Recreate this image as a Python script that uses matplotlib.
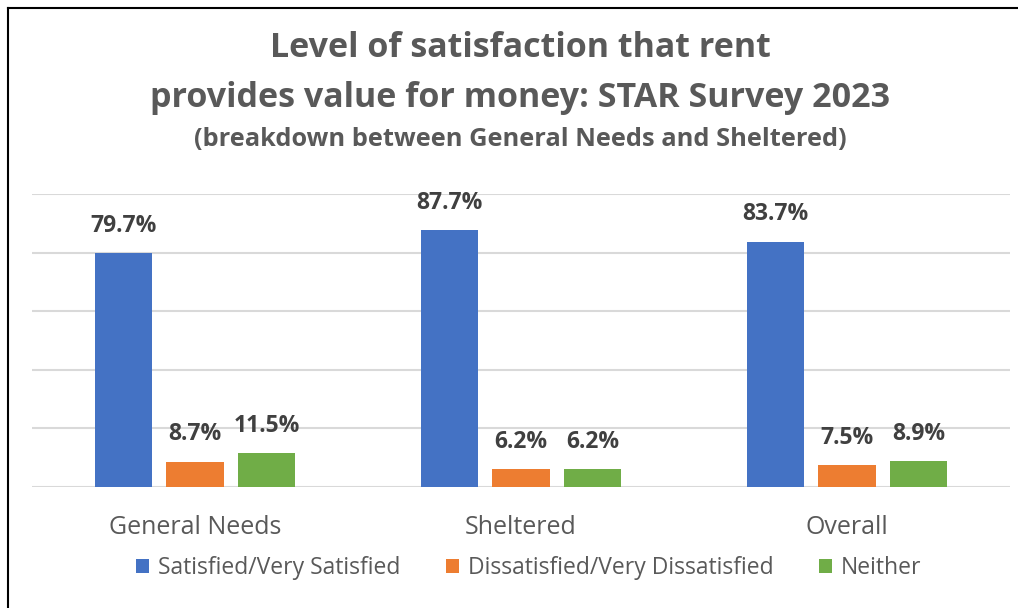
import numpy as np
import matplotlib.pyplot as plt
from matplotlib.lines import Line2D

categories = ["General Needs", "Sheltered", "Overall"]
series = ["Satisfied/Very Satisfied", "Dissatisfied/Very Dissatisfied", "Neither"]
satisfied = [79.7, 87.7, 83.7]
dissatisfied = [8.7, 6.2, 7.5]
neither = [11.5, 6.2, 8.9]
colors = ["#4472C4", "#ED7D31", "#70AD47"]

plt.rcParams['font.family'] = ['Open Sans', 'DejaVu Sans']

fig = plt.figure(figsize=(10.18, 6.08), dpi=100)
ax = fig.add_axes([32 / 1018, 121 / 608, 978 / 1018, 293 / 608])

x = np.arange(len(categories))
step = 0.2205
width = 0.175
for i, (vals, name) in enumerate(zip([satisfied, dissatisfied, neither], series)):
    pos = x + (i - 1) * step
    ax.bar(pos, vals, width, color=colors[i], label=name, zorder=3)
    for px, v in zip(pos, vals):
        ax.annotate(f"{v}%", (px, v), xytext=(0, 11), textcoords="offset points",
                    ha="center", va="bottom", fontsize=16.5, fontweight="bold", color="#404040")

ax.set_xlim(-0.5, 2.5)
ax.set_ylim(0, 100)
ax.set_yticks(np.arange(0, 101, 20))
ax.set_yticklabels([])
ax.tick_params(length=0)
ax.grid(axis="y", color="#D9D9D9", linewidth=1.5, zorder=0)
for s in ax.spines.values():
    s.set_visible(False)
ax.set_xticks(x)
ax.set_xticklabels(categories, fontsize=18, color="#595959")
ax.tick_params(axis="x", pad=20)

cx = 520 / 1018
fig.text(cx, 1 - 48 / 608, "Level of satisfaction that rent", ha="center", va="center",
         fontsize=24.5, fontweight="bold", color="#595959")
fig.text(cx, 1 - 98 / 608, "provides value for money: STAR Survey 2023", ha="center", va="center",
         fontsize=24.5, fontweight="bold", color="#595959")
fig.text(cx, 1 - 140 / 608, "(breakdown between General Needs and Sheltered)", ha="center", va="center",
         fontsize=18.3, fontweight="bold", color="#595959")

leg = fig.legend(loc="center", bbox_to_anchor=(529 / 1018, 1 - 568 / 608), ncol=3, frameon=False,
                 fontsize=16.5, handlelength=0.55, handleheight=0.55, columnspacing=2.0,
                 handletextpad=0.4)
for t in leg.get_texts():
    t.set_color("#595959")

fig.add_artist(Line2D([8 / 1018, 8 / 1018], [0, 1 - 8 / 608], color="black", linewidth=1.5))
fig.add_artist(Line2D([8 / 1018, 1], [1 - 8 / 608, 1 - 8 / 608], color="black", linewidth=1.5))

fig.savefig("out.png", dpi=100)
